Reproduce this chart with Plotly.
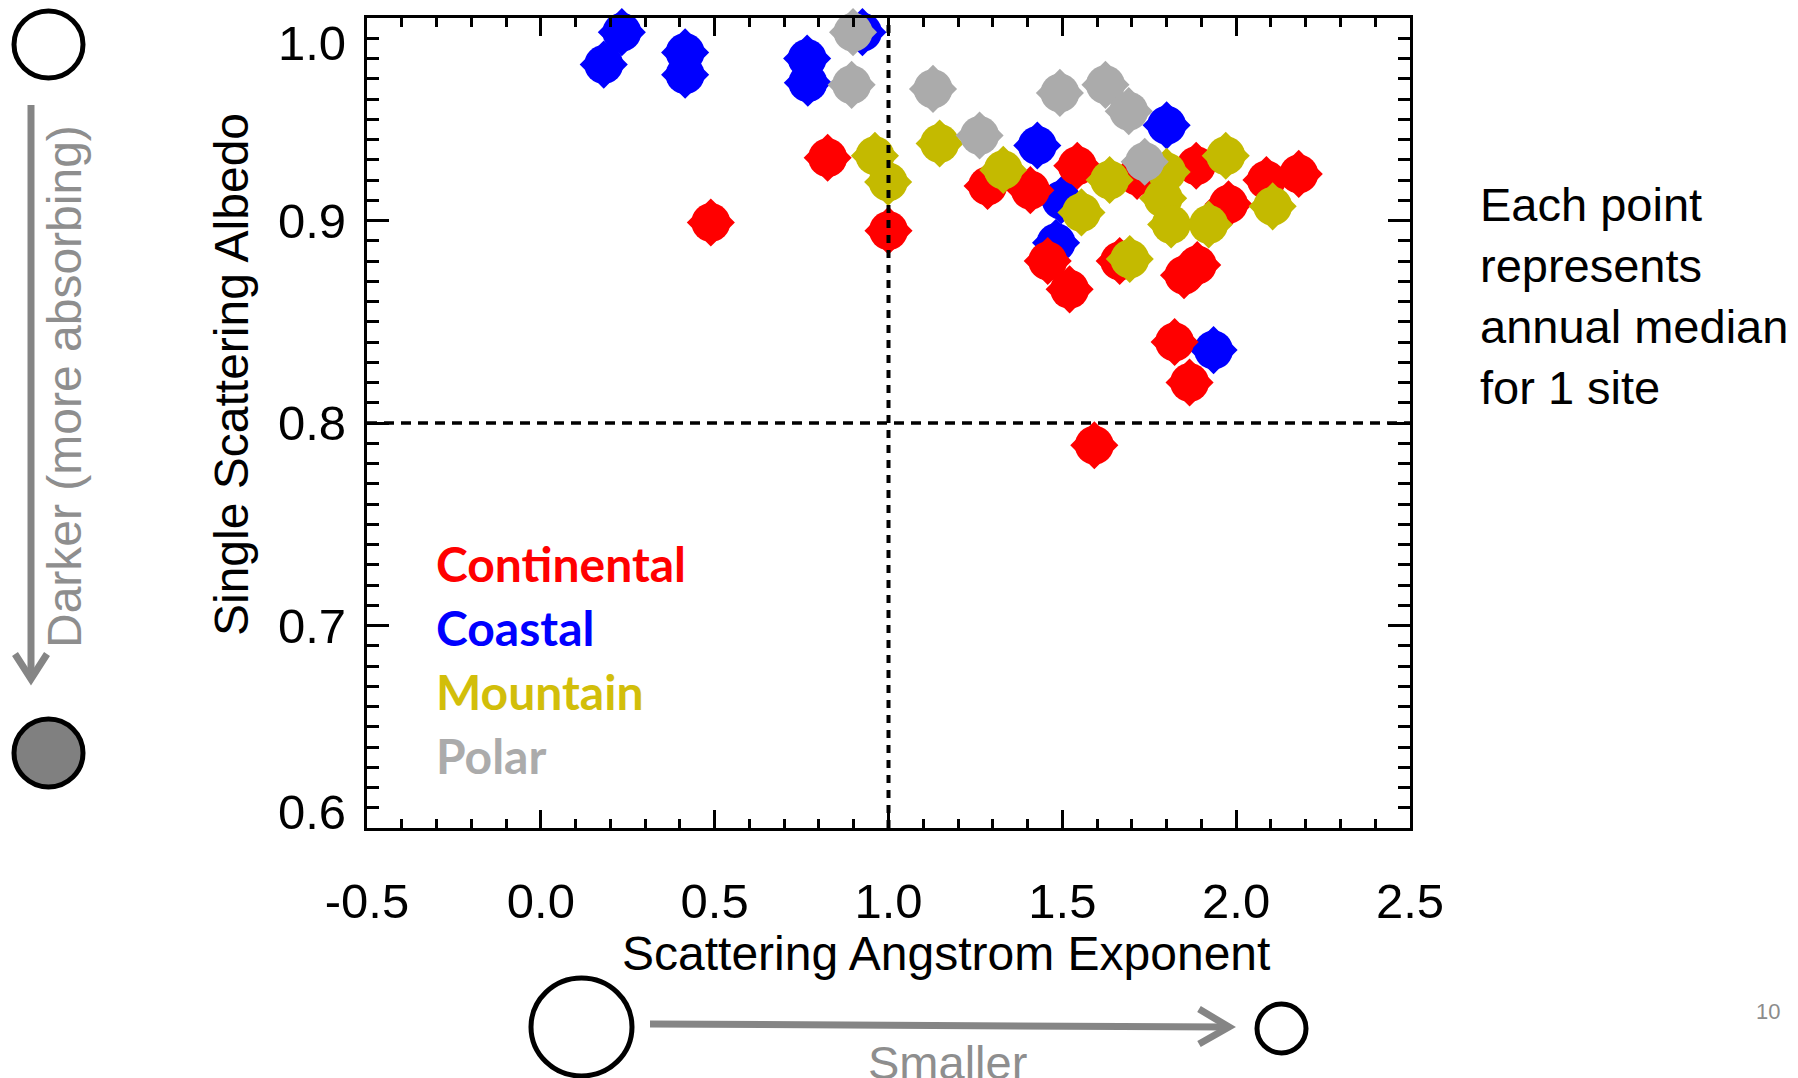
import plotly.graph_objects as go

# ---------------- data ----------------
categories = ["Continental", "Coastal", "Mountain", "Polar"]

continental_x = [0.489, 0.825, 1.000, 1.285, 1.408, 1.543, 1.715, 1.885, 1.978, 2.087,
                 2.180, 1.458, 1.521, 1.665, 1.850, 1.888, 1.823, 1.866, 1.592]
continental_y = [0.899, 0.931, 0.895, 0.917, 0.915, 0.927, 0.922, 0.927, 0.908, 0.920,
                 0.923, 0.880, 0.866, 0.880, 0.873, 0.878, 0.840, 0.820, 0.789]

coastal_x = [0.181, 0.233, 0.415, 0.415, 0.766, 0.768, 0.925, 1.428, 1.497, 1.482, 1.800, 1.935]
coastal_y = [0.977, 0.993, 0.983, 0.972, 0.980, 0.968, 0.993, 0.937, 0.910, 0.889, 0.947, 0.836]

mountain_x = [0.961, 0.999, 1.147, 1.330, 1.555, 1.636, 1.800, 1.790, 1.813, 1.921, 1.970, 2.105, 1.694]
mountain_y = [0.932, 0.919, 0.938, 0.925, 0.904, 0.920, 0.924, 0.911, 0.898, 0.898, 0.932, 0.907, 0.881]

polar_x = [0.898, 0.894, 1.128, 1.262, 1.493, 1.624, 1.691, 1.737]
polar_y = [0.993, 0.967, 0.965, 0.942, 0.963, 0.967, 0.954, 0.929]

x_tick_vals = [-0.5, 0.0, 0.5, 1.0, 1.5, 2.0, 2.5]
x_tick_text = ["-0.5", "0.0", "0.5", "1.0", "1.5", "2.0", "2.5"]
y_tick_vals = [0.6, 0.7, 0.8, 0.9, 1.0]
y_tick_text = ["0.6", "0.7", "0.8", "0.9", "1.0"]

ref_x = 1.0   # dashed vertical reference
ref_y = 0.8   # dashed horizontal reference

x_title = "Scattering Angstrom Exponent"
y_title = "Single Scattering Albedo"
note_text = "Each point<br>represents<br>annual median<br>for 1 site"
darker_text = "Darker (more absorbing)"
smaller_text = "Smaller"
page_text = "10"

# ---------------- styles ----------------
marker_colors = {"Continental": "#FF0000", "Coastal": "#0000FF",
                 "Mountain": "#C4BA00", "Polar": "#ABABAB"}
label_colors = {"Continental": "#FF0000", "Coastal": "#0000FF",
                "Mountain": "#D2BE0A", "Polar": "#ABABAB"}
series = {"Continental": (continental_x, continental_y),
          "Coastal": (coastal_x, coastal_y),
          "Mountain": (mountain_x, mountain_y),
          "Polar": (polar_x, polar_y)}
draw_order = ["Coastal", "Continental", "Mountain", "Polar"]
# vertical pixel nudges of the y tick labels (ends pulled inside as in the original)
y_label_shift = [16, 0, 0, 0, -25]

W, H = 1798, 1078
L, R, T, B = 367, 388, 18, 250
PW, PH = W - L - R, H - T - B


def px(x):
    return (x - L) / PW


def py(y):
    return (H - B - y) / PH


GRAY = "#858585"
TXT_GRAY = "#8E8E8E"
FONT = "Liberation Sans, Arial, sans-serif"
TICKFONT = dict(family=FONT, size=49, color="black")

fig = go.Figure()
for name in draw_order:
    xs, ys = series[name]
    # a diamond unioned with a slightly smaller circle gives the rounded diamond glyph
    fig.add_trace(go.Scatter(
        x=xs, y=ys, mode="markers", name=name, cliponaxis=False,
        marker=dict(symbol="diamond", size=37, color=marker_colors[name],
                    line=dict(width=0)),
        showlegend=False, hoverinfo="skip"))
    fig.add_trace(go.Scatter(
        x=xs, y=ys, mode="markers", name=name, cliponaxis=False,
        marker=dict(symbol="circle", size=39, color=marker_colors[name],
                    line=dict(width=0)),
        showlegend=False))

# dashed reference lines (on top of markers)
fig.add_shape(type="line", xref="x", yref="y", x0=ref_x, x1=ref_x,
              y0=y_tick_vals[0], y1=y_tick_vals[-1], layer="above",
              line=dict(color="black", width=4, dash="8px,7px"))
fig.add_shape(type="line", xref="x", yref="y", x0=x_tick_vals[0], x1=x_tick_vals[-1],
              y0=ref_y, y1=ref_y, layer="above",
              line=dict(color="black", width=3.5, dash="10px,7px"))

# y tick labels, placed on the y scale
for val, txt, sh in zip(y_tick_vals, y_tick_text, y_label_shift):
    fig.add_annotation(x=0, y=val, xref="paper", yref="y", text=txt, showarrow=False,
                       xanchor="right", yanchor="middle", xshift=-19, yshift=sh,
                       font=TICKFONT)

# category labels
label_rows = [563, 627, 691, 755]
for name, yy in zip(categories, label_rows):
    fig.add_annotation(x=px(434), y=py(yy), xref="paper", yref="paper",
                       text="<b>%s</b>" % name, showarrow=False,
                       xanchor="left", yanchor="middle",
                       font=dict(family="Lato, Carlito, sans-serif", size=48,
                                 color=label_colors[name]))

# axis titles
fig.add_annotation(x=px(946), y=py(953), xref="paper", yref="paper", text=x_title,
                   showarrow=False, xanchor="center", yanchor="middle",
                   font=dict(family=FONT, size=48, color="black"))
fig.add_annotation(x=px(231), y=py(375), xref="paper", yref="paper", text=y_title,
                   showarrow=False, textangle=-90, xanchor="center", yanchor="middle",
                   font=dict(family=FONT, size=48, color="black"))

# note on the right
fig.add_annotation(x=px(1478), y=py(296), xref="paper", yref="paper", text=note_text,
                   showarrow=False, xanchor="left", yanchor="middle", align="left",
                   font=dict(family=FONT, size=47, color="black"))

# left decoration: circles, arrow, text
fig.add_shape(type="circle", xref="paper", yref="paper",
              x0=px(14), x1=px(83), y0=py(78), y1=py(11),
              line=dict(color="black", width=5), fillcolor="white")
fig.add_shape(type="circle", xref="paper", yref="paper",
              x0=px(14), x1=px(83), y0=py(787), y1=py(719),
              line=dict(color="black", width=5), fillcolor="#808080")
fig.add_shape(type="path", xref="paper", yref="paper",
              path="M %f,%f L %f,%f" % (px(31), py(105), px(31), py(676)),
              line=dict(color=GRAY, width=7))
fig.add_shape(type="path", xref="paper", yref="paper",
              path="M %f,%f L %f,%f L %f,%f" % (px(15), py(654), px(31), py(679), px(47), py(654)),
              line=dict(color=GRAY, width=7))
fig.add_annotation(x=px(64), y=py(387), xref="paper", yref="paper", text=darker_text,
                   showarrow=False, textangle=-90, xanchor="center", yanchor="middle",
                   font=dict(family=FONT, size=48, color=TXT_GRAY))

# bottom decoration: circles, arrow, text
fig.add_shape(type="circle", xref="paper", yref="paper",
              x0=px(531), x1=px(632), y0=py(1076), y1=py(978),
              line=dict(color="black", width=5), fillcolor="white")
fig.add_shape(type="circle", xref="paper", yref="paper",
              x0=px(1257), x1=px(1306), y0=py(1053), y1=py(1004),
              line=dict(color="black", width=5), fillcolor="white")
fig.add_shape(type="path", xref="paper", yref="paper",
              path="M %f,%f L %f,%f" % (px(650), py(1024), px(1226), py(1027)),
              line=dict(color=GRAY, width=7))
fig.add_shape(type="path", xref="paper", yref="paper",
              path="M %f,%f L %f,%f L %f,%f" % (px(1199), py(1009), px(1229), py(1027), px(1199), py(1044)),
              line=dict(color=GRAY, width=7))
fig.add_annotation(x=px(947), y=py(1034), xref="paper", yref="paper", text=smaller_text,
                   showarrow=False, xanchor="center", yanchor="top",
                   font=dict(family=FONT, size=47, color=TXT_GRAY))
fig.add_annotation(x=px(1768), y=py(1011), xref="paper", yref="paper", text=page_text,
                   showarrow=False, xanchor="center", yanchor="middle",
                   font=dict(family=FONT, size=22, color="#8C8C8C"))

axis_common = dict(showgrid=False, zeroline=False, showline=True, linecolor="black",
                   linewidth=3, mirror="ticks", ticks="inside", tickcolor="black",
                   tickwidth=2.5)
fig.update_xaxes(range=[x_tick_vals[0], x_tick_vals[-1]], tickvals=x_tick_vals,
                 ticktext=x_tick_text, ticklen=18, ticklabelstandoff=28,
                 ticklabeloverflow="allow", tickfont=TICKFONT,
                 minor=dict(dtick=0.1, ticks="inside", ticklen=9, tickwidth=2.5,
                            tickcolor="black", showgrid=False),
                 **axis_common)
fig.update_yaxes(range=[y_tick_vals[0], y_tick_vals[-1]], tickvals=y_tick_vals,
                 showticklabels=False, ticklen=22,
                 minor=dict(dtick=0.01, ticks="inside", ticklen=12, tickwidth=2.5,
                            tickcolor="black", showgrid=False),
                 **axis_common)

fig.update_layout(width=W, height=H, autosize=False,
                  margin=dict(l=L, r=R, t=T, b=B, pad=0),
                  plot_bgcolor="white", paper_bgcolor="white",
                  showlegend=False)

fig.write_html("out.html")
